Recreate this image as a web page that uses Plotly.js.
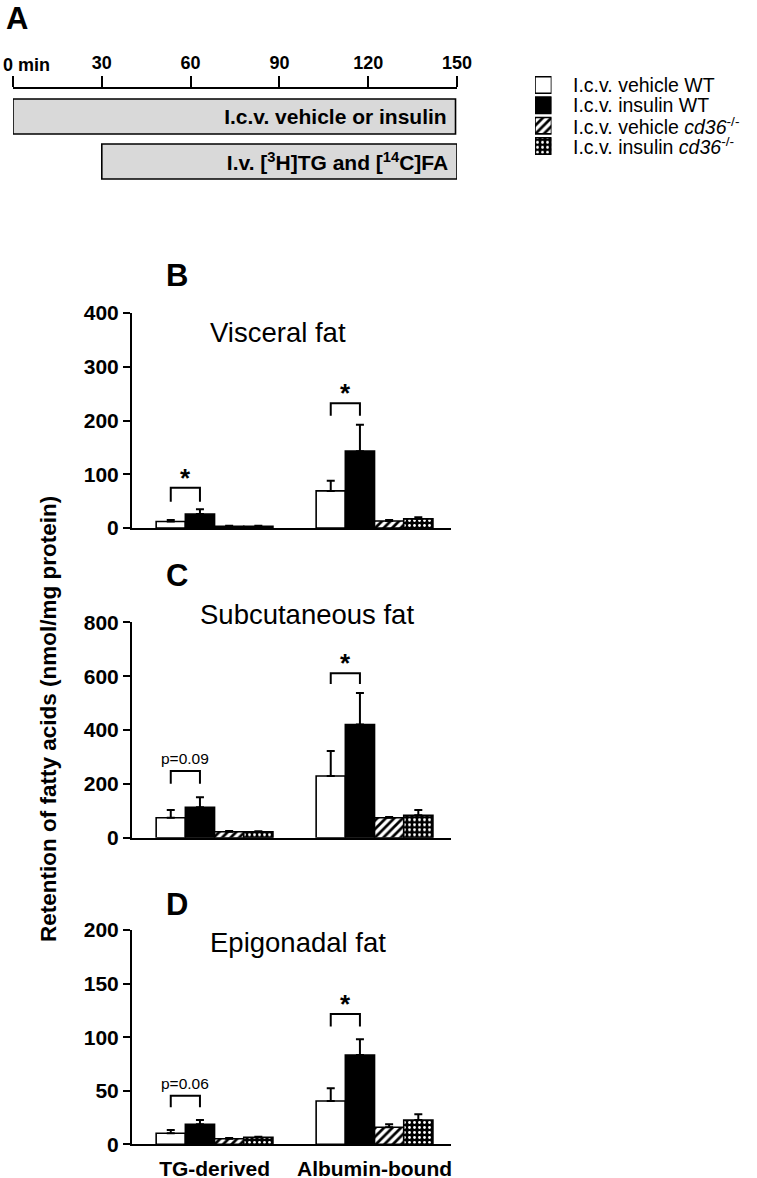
<!DOCTYPE html>
<html>
<head>
<meta charset="utf-8">
<script src="https://cdn.plot.ly/plotly-3.0.1.min.js"></script>
<style>html,body{margin:0;padding:0;background:#fff}#chart{width:757px;height:1178px}</style>
</head>
<body>
<div id="chart"></div>
<script>
// ---------- data ----------
const timeTicks = [30, 60, 90, 120, 150];
const timeTickText = ['30', '60', '90', '120', '150'];
const timeStartLabel = '0 min';
const protocolLabels = ['I.c.v. vehicle or insulin', 'I.v. [<sup>3</sup>H]TG and [<sup>14</sup>C]FA'];
const protocolStart = [0, 30];
const protocolEnd = [149.5, 150];

const groups = ['TG-derived', 'Albumin-bound'];
const seriesNames = [
  'I.c.v. vehicle WT',
  'I.c.v. insulin WT',
  'I.c.v. vehicle <i>cd36</i><sup>-/-</sup>',
  'I.c.v. insulin <i>cd36</i><sup>-/-</sup>'
];
const panelTitles = ['Visceral fat', 'Subcutaneous fat', 'Epigonadal fat'];
const panelLetters = ['B', 'C', 'D'];

// means / upper SEM per series: [TG-derived, Albumin-bound]
const visceralMeans  = [[12, 69], [26, 143], [3, 13], [3, 17]];
const visceralErrors = [[3, 19], [9, 49], [1, 2], [1, 3]];
const subcutMeans    = [[74, 229], [113, 420], [22, 74], [22, 83]];
const subcutErrors   = [[29, 93], [37, 117], [3, 3], [2, 20]];
const epigonMeans    = [[10.3, 40.4], [18.7, 83.3], [5.2, 15.9], [6.5, 22.7]];
const epigonErrors   = [[3, 11.8], [4, 14.7], [0.6, 2.8], [0.5, 5.3]];

const yMax = [400, 800, 200];
const yStep = [100, 200, 50];

const bracketLabels = [['*', '*'], ['p=0.09', '*'], ['p=0.06', '*']];
const bracketLow  = [[49, 209], [200, 571], [34.5, 110]];
const bracketHigh = [[75, 232], [248, 611], [45.3, 121.5]];

// ---------- layout helpers ----------
const W = 757, H = 1178;
const px = v => v / W;
const py = v => 1 - v / H;
const FONT = 'Arial, "Liberation Sans", Helvetica, sans-serif';
const bargap = 0.27;
const barW = (1 - bargap) / 4;
const offs = [0, 1, 2, 3].map(i => (i - 1.5) * barW);

const panelMeans = [visceralMeans, subcutMeans, epigonMeans];
const panelErrors = [visceralErrors, subcutErrors, epigonErrors];
const panelDomains = [[py(528), py(313)], [py(837.7), py(622.3)], [py(1144.3), py(930)]];
const titleX = [278, 307, 298];
const titleY = [332, 614, 942];
const letterY = [275, 575, 904];

const fillColors = ['#ffffff', '#000000', '#ffffff', '#000000'];
const patShapes = ['', '', '/', '.'];
const patFg = ['#000', '#000', '#000', '#fff'];
const patSize = [6, 6, 6, 5];
const patSolid = [0.3, 0.3, 0.45, 0.25];
const markerFor = s => {
  const m = {color: fillColors[s], line: {color: '#000', width: 1.6}};
  if (patShapes[s]) m.pattern = {shape: patShapes[s], fgcolor: patFg[s], bgcolor: fillColors[s], size: patSize[s], solidity: patSolid[s]};
  return m;
};

const data = [];
const layout = {
  width: W, height: H,
  margin: {l: 0, r: 0, t: 0, b: 0},
  paper_bgcolor: '#fff', plot_bgcolor: 'rgba(0,0,0,0)',
  font: {family: FONT, color: '#000'},
  barmode: 'group', bargap: bargap, bargroupgap: 0,
  showlegend: false,
  shapes: [], annotations: []
};

// ---------- panel A: timeline ----------
data.push({
  type: 'bar', orientation: 'h', xaxis: 'x4', yaxis: 'y4',
  y: [0, 1],
  x: protocolEnd.map((e, i) => e - protocolStart[i]),
  base: protocolStart,
  width: [0.778, 0.778],
  marker: {color: '#d9d9d9', line: {color: '#000', width: 1.6}},
  text: protocolLabels.map(t => '<b>' + t + '</b>&nbsp;'),
  textposition: 'inside', insidetextanchor: 'end', textangle: 0,
  textfont: {family: FONT, size: 21, color: '#000'},
  constraintext: 'none', cliponaxis: false,
  showlegend: false, hoverinfo: 'skip'
});
layout.xaxis4 = {
  domain: [px(13), px(457)], anchor: 'y4', side: 'top', range: [0, 150],
  showline: true, linewidth: 2, linecolor: '#000',
  ticks: 'outside', ticklen: 11, tickwidth: 2, tickcolor: '#000',
  tickvals: timeTicks, ticktext: timeTickText,
  tickfont: {family: FONT, size: 18, color: '#000', weight: 'bold'},
  minor: {tickvals: [0], ticks: 'outside', ticklen: 11, tickwidth: 2, tickcolor: '#000', showgrid: false},
  showgrid: false, zeroline: false, fixedrange: true
};
layout.yaxis4 = {
  domain: [py(190), py(89)], anchor: 'x4', range: [1.633, -0.611],
  visible: false, fixedrange: true
};
layout.annotations.push({
  xref: 'paper', yref: 'paper', x: px(1), y: py(65), xanchor: 'left', yanchor: 'middle',
  text: '<b>' + timeStartLabel + '</b>', showarrow: false, font: {family: FONT, size: 18, color: '#000'}
});
layout.annotations.push({
  xref: 'paper', yref: 'paper', x: px(17), y: py(19), xanchor: 'center', yanchor: 'middle',
  text: '<b>A</b>', showarrow: false, font: {family: FONT, size: 31, color: '#000'}
});

// ---------- legend (drawn as a small bar subplot) ----------
seriesNames.forEach((n, i) => {
  data.push({
    type: 'bar', orientation: 'h', xaxis: 'x5', yaxis: 'y5',
    y: [i], x: [1], base: [0], width: [0.81], offsetgroup: 'legend',
    marker: markerFor(i),
    cliponaxis: false, showlegend: false, hoverinfo: 'skip'
  });
  layout.annotations.push({
    xref: 'x5', yref: 'y5', x: 1, y: i, xanchor: 'left', yanchor: 'middle', xshift: 19,
    text: n, showarrow: false, font: {family: FONT, size: 19.5, color: '#000'}
  });
});
layout.xaxis5 = {domain: [px(535), px(551.5)], anchor: 'y5', range: [0, 1], visible: false, fixedrange: true};
layout.yaxis5 = {domain: [py(156.2), py(74.8)], anchor: 'x5', range: [3.5, -0.5], visible: false, fixedrange: true};

// ---------- panels B, C, D ----------
for (let p = 0; p < 3; p++) {
  const xa = p === 0 ? 'x' : 'x' + (p + 1);
  const ya = p === 0 ? 'y' : 'y' + (p + 1);
  const xKey = p === 0 ? 'xaxis' : 'xaxis' + (p + 1);
  const yKey = p === 0 ? 'yaxis' : 'yaxis' + (p + 1);
  for (let s = 0; s < 4; s++) {
    data.push({
      type: 'bar', xaxis: xa, yaxis: ya,
      x: [0, 1], y: panelMeans[p][s],
      name: seriesNames[s], showlegend: false,
      marker: markerFor(s),
      error_y: {type: 'data', symmetric: false, array: panelErrors[p][s],
                arrayminus: [0, 0], color: '#000', thickness: 2, width: 4},
      hoverinfo: 'skip'
    });
  }
  const ticks = [];
  for (let t = 0; t <= yMax[p]; t += yStep[p]) ticks.push(t);
  layout[xKey] = {
    domain: [px(132), px(451)], anchor: ya, range: [-0.516, 1.478],
    showline: true, linewidth: 2, linecolor: '#000', ticks: '',
    tickvals: [0, 1], ticktext: groups, showticklabels: p === 2,
    ticklabelstandoff: 4,
    tickfont: {family: FONT, size: 21, color: '#000', weight: 'bold'},
    showgrid: false, zeroline: false, fixedrange: true
  };
  layout[yKey] = {
    domain: panelDomains[p], anchor: xa, range: [0, yMax[p]],
    showline: true, linewidth: 2, linecolor: '#000',
    ticks: 'outside', ticklen: 7, tickwidth: 2, tickcolor: '#000',
    tickvals: ticks, ticklabelstandoff: 0,
    tickfont: {family: FONT, size: 21, color: '#000', weight: 'bold'},
    showgrid: false, zeroline: false, fixedrange: true
  };
  // brackets + labels
  for (let g = 0; g < 2; g++) {
    const x0 = g + offs[0], x1 = g + offs[1];
    const lo = bracketLow[p][g], hi = bracketHigh[p][g];
    layout.shapes.push({
      type: 'path', xref: xa, yref: ya,
      path: `M ${x0},${lo} L ${x0},${hi} L ${x1},${hi} L ${x1},${lo}`,
      line: {color: '#000', width: 2}
    });
    const isStar = bracketLabels[p][g] === '*';
    layout.annotations.push({
      xref: xa, yref: ya, x: (x0 + x1) / 2, y: hi, xanchor: 'center', yanchor: 'bottom',
      yshift: isStar ? -7 : 2,
      text: isStar ? '<b>*</b>' : bracketLabels[p][g], showarrow: false,
      font: {family: FONT, size: isStar ? 26 : 15.5, color: '#000'}
    });
  }
  layout.annotations.push({
    xref: 'paper', yref: 'paper', x: px(titleX[p]), y: py(titleY[p]), xanchor: 'center', yanchor: 'middle',
    text: panelTitles[p], showarrow: false, font: {family: FONT, size: 27.5, color: '#000'}
  });
  layout.annotations.push({
    xref: 'paper', yref: 'paper', x: px(177), y: py(letterY[p]), xanchor: 'center', yanchor: 'middle',
    text: '<b>' + panelLetters[p] + '</b>', showarrow: false, font: {family: FONT, size: 31, color: '#000'}
  });
}

// shared y-axis title
layout.annotations.push({
  xref: 'paper', yref: 'paper', x: px(48), y: py(719), xanchor: 'center', yanchor: 'middle',
  textangle: -90, text: '<b>Retention of fatty acids (nmol/mg protein)</b>', showarrow: false,
  font: {family: FONT, size: 22.5, color: '#000'}
});

Plotly.newPlot('chart', data, layout, {staticPlot: true, displayModeBar: false});
</script>
</body>
</html>
